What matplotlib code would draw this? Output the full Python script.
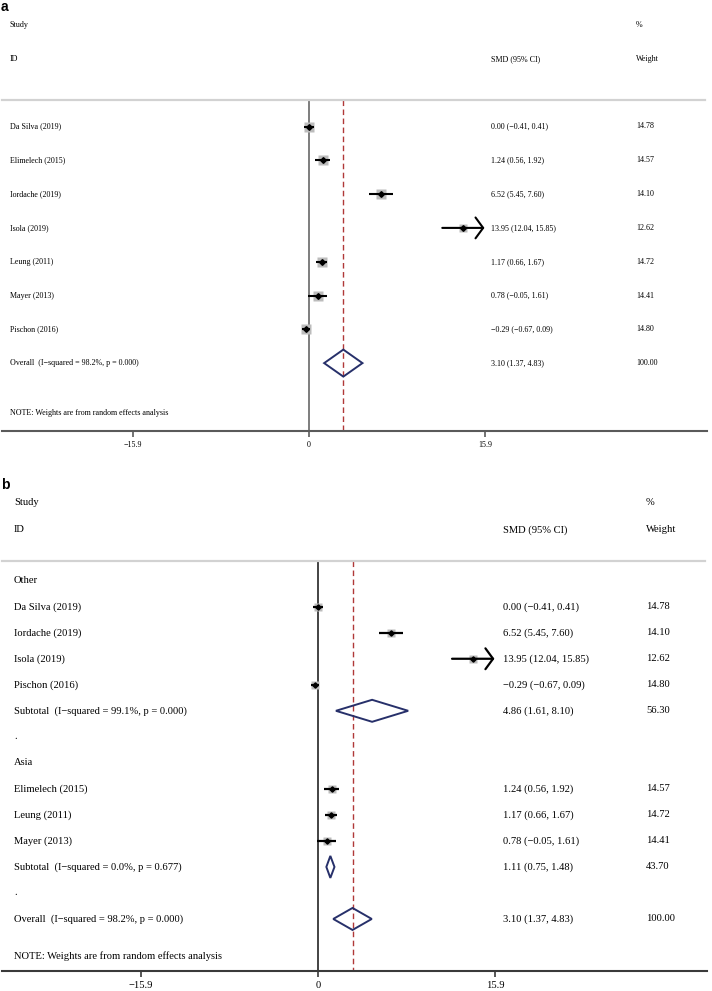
import numpy as np
import matplotlib
matplotlib.use("Agg")
import matplotlib.pyplot as plt
from matplotlib.patches import Polygon

W, H = 712, 991

# individual studies (panel a order)
studies = ["Da Silva (2019)", "Elimelech (2015)", "Iordache (2019)", "Isola (2019)",
           "Leung (2011)", "Mayer (2013)", "Pischon (2016)"]
smd = [0.00, 1.24, 6.52, 13.95, 1.17, 0.78, -0.29]
ci_lo = [-0.41, 0.56, 5.45, 12.04, 0.66, -0.05, -0.67]
ci_hi = [0.41, 1.92, 7.60, 15.85, 1.67, 1.61, 0.09]
weights = [14.78, 14.57, 14.10, 12.62, 14.72, 14.41, 14.80]

overall = (3.10, 1.37, 4.83)
overall_weight = 100.00
overall_het = "I\u2212squared = 98.2%, p = 0.000"

# subgroups (panel b)
group_names = ["Other", "Asia"]
group_members = [["Da Silva (2019)", "Iordache (2019)", "Isola (2019)", "Pischon (2016)"],
                 ["Elimelech (2015)", "Leung (2011)", "Mayer (2013)"]]
sub_smd = [4.86, 1.11]
sub_lo = [1.61, 0.75]
sub_hi = [8.10, 1.48]
sub_weights = [56.30, 43.70]
sub_het = ["I\u2212squared = 99.1%, p = 0.000", "I\u2212squared = 0.0%, p = 0.677"]

tick_vals = [-15.9, 0, 15.9]
tick_labels = ["\u221215.9", "0", "15.9"]
note = "NOTE: Weights are from random effects analysis"

ARROW_FROM = 15.0
DIAMOND = "#27306a"
REFLINE = "#b03838"
SERIF = "Liberation Serif"

plt.rcParams["font.family"] = SERIF


def ci_text(e, lo, hi):
    return f"{e:.2f} ({lo:.2f}, {hi:.2f})".replace("-", "\u2212")


class Panel:
    def __init__(self, fig, top, axis_y, sep_y, zero_x, unit, fs, box, dot, lw, dh,
                 lab_x, smd_x, wt_x, axis_col, zero_col):
        self.ax = fig.add_axes([0, 1 - axis_y / H, 1, (axis_y - top) / H])
        ax = self.ax
        ax.set_xlim(-zero_x / unit, (W - zero_x) / unit)
        ax.set_ylim(axis_y, top)
        self.unit, self.zero_x = unit, zero_x
        self.fs, self.box, self.dot, self.lw, self.dh = fs, box, dot, lw, dh
        self.lab_x, self.smd_x, self.wt_x = lab_x / W, smd_x / W, wt_x / W
        self.tr = ax.get_yaxis_transform()
        for s in ["top", "left", "right"]:
            ax.spines[s].set_visible(False)
        ax.spines["bottom"].set_color(axis_col)
        ax.spines["bottom"].set_linewidth(1.5)
        ax.spines["bottom"].set_bounds(self.px(2), self.px(707))
        ax.set_yticks([])
        ax.set_xticks(tick_vals)
        ax.set_xticklabels(tick_labels)
        ax.tick_params(axis="x", direction="out", length=4.5, width=1.2, color=axis_col,
                       labelsize=fs, pad=3)
        ax.axhline(sep_y, xmin=2 / W, xmax=705 / W, color="#d2d2d2", lw=1.6)
        ax.plot([0, 0], [sep_y, axis_y], color=zero_col, lw=1.1, zorder=1)
        ax.plot([overall[0], overall[0]], [sep_y, axis_y], color=REFLINE, lw=1.0,
                dashes=(4, 2.5), zorder=1)

    def px(self, p):
        return (p - self.zero_x) / self.unit

    def text(self, x, y, s):
        self.ax.text(x, y, s, transform=self.tr, fontsize=self.fs, va="center", ha="left")

    def row(self, y, label, values=None, weight=None):
        self.text(self.lab_x, y, label)
        if values is not None:
            self.text(self.smd_x, y, ci_text(*values))
        if weight is not None:
            self.text(self.wt_x, y, f"{weight:.2f}")

    def study(self, y, e, lo, hi, w):
        ax = self.ax
        ax.plot(e, y, "s", ms=self.box * np.sqrt(w), color="#bcbcbc", mec="none", zorder=2)
        if hi > ARROW_FROM:
            ax.annotate("", xy=(hi, y), xytext=(lo, y),
                        arrowprops=dict(arrowstyle="->,head_length=0.55,head_width=0.75",
                                        lw=self.lw, color="k", shrinkA=0, shrinkB=0,
                                        mutation_scale=10), zorder=3)
        else:
            ax.plot([lo, hi], [y, y], color="k", lw=self.lw, solid_capstyle="butt", zorder=3)
        ax.plot(e, y, "D", ms=self.dot, color="k", mec="k", zorder=4)

    def diamond(self, y, e, lo, hi):
        d = self.dh
        self.ax.add_patch(Polygon([(lo, y), (e, y - d), (hi, y), (e, y + d)], closed=True,
                                  fill=False, edgecolor=DIAMOND, lw=1.4, zorder=3))


fig = plt.figure(figsize=(W / 100, H / 100), dpi=100)

# ---- panel a ----
pa = Panel(fig, top=0, axis_y=431, sep_y=100, zero_x=309, unit=176 / 15.9, fs=5.8,
           box=1.75, dot=2.9, lw=1.5, dh=13.5, lab_x=10, smd_x=491, wt_x=636,
           axis_col="#5a5a5a", zero_col="#5a5a5a")
pa.text(10 / W, 25, "Study")
pa.text(10 / W, 59, "ID")
pa.text(636 / W, 25, "%")
pa.text(491 / W, 59, "SMD (95% CI)")
pa.text(636 / W, 59, "Weight")
y0, step = 126.5, 33.8
for i, name in enumerate(studies):
    y = y0 + i * step
    pa.row(y, name, (smd[i], ci_lo[i], ci_hi[i]), weights[i])
    pa.study(y, smd[i], ci_lo[i], ci_hi[i], weights[i])
y = y0 + len(studies) * step
pa.row(y, f"Overall  ({overall_het})", overall, overall_weight)
pa.diamond(y, *overall)
pa.text(10 / W, 413, note)

# ---- panel b ----
pb = Panel(fig, top=470, axis_y=971, sep_y=561, zero_x=318, unit=177 / 15.9, fs=7.6,
           box=1.5, dot=2.7, lw=1.6, dh=11, lab_x=14, smd_x=503, wt_x=646,
           axis_col="#3a3a3a", zero_col="#111111")
pb.text(14 / W, 503, "Study")
pb.text(14 / W, 530, "ID")
pb.text(646 / W, 503, "%")
pb.text(503 / W, 530, "SMD (95% CI)")
pb.text(646 / W, 530, "Weight")
y0, step = 580.7, 26.02
r = 0
for g, gname in enumerate(group_names):
    pb.row(y0 + r * step, gname)
    r += 1
    for name in group_members[g]:
        i = studies.index(name)
        y = y0 + r * step
        pb.row(y, name, (smd[i], ci_lo[i], ci_hi[i]), weights[i])
        pb.study(y, smd[i], ci_lo[i], ci_hi[i], weights[i])
        r += 1
    y = y0 + r * step
    pb.row(y, f"Subtotal  ({sub_het[g]})", (sub_smd[g], sub_lo[g], sub_hi[g]), sub_weights[g])
    pb.diamond(y, sub_smd[g], sub_lo[g], sub_hi[g])
    r += 1
    pb.row(y0 + r * step, ".")
    r += 1
y = y0 + r * step
pb.row(y, f"Overall  ({overall_het})", overall, overall_weight)
pb.diamond(y, *overall)
pb.text(14 / W, 956, note)

fig.text(1 / W, 1 - 7 / H, "a", fontsize=10, fontweight="bold", family="Liberation Sans",
         va="center", ha="left")
fig.text(1 / W, 1 - 485 / H, "b", fontsize=10, fontweight="bold", family="Liberation Sans",
         va="center", ha="left")

fig.savefig("out.png", dpi=100)
